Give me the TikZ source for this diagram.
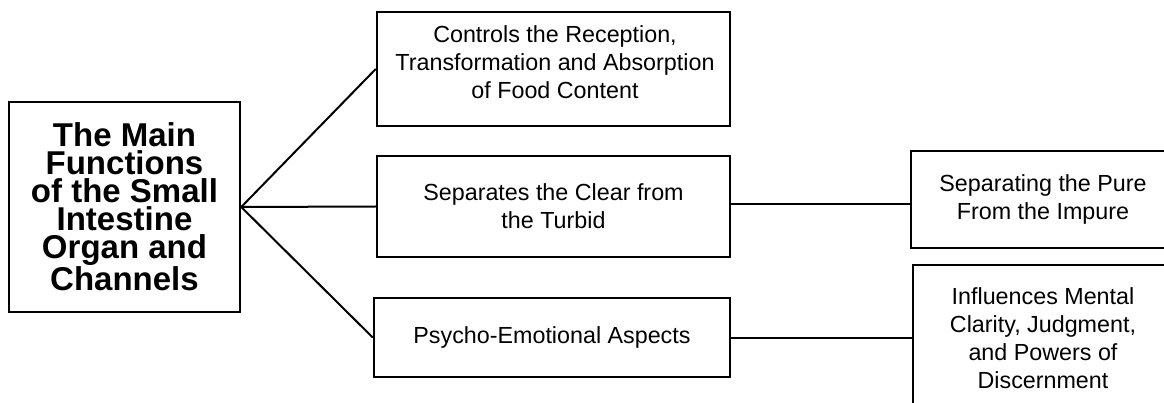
\documentclass[tikz,border=0pt]{standalone}
\usepackage{fontspec}
\setmainfont{Liberation Sans}
\begin{document}
\begin{tikzpicture}[x=1pt,y=-1pt,
  box/.style={draw=black, line width=2.5pt, align=center, inner sep=0pt,
    font=\fontsize{23.3}{28}\selectfont},
  plain/.style={align=center, inner sep=0pt, font=\fontsize{23.3}{28}\selectfont},
  titlebox/.style={box, font=\fontsize{33}{28}\selectfont\bfseries},
  link/.style={line width=2pt}]
\useasboundingbox[fill=white] (0,0) rectangle (1164,403);

% central title
\node[titlebox, minimum width=231pt, minimum height=210pt] (main) at (124.5,207)
  {The Main\\Functions\\of the Small\\Intestine\\Organ and\\Channels};

% first level functions
\node[box, minimum width=353pt, minimum height=114pt] (food) at (553.5,69) {};
\node[plain] (foodtext) at (555,62)
  {Controls the Reception,\\Transformation and Absorption\\of Food Content};
\node[box, minimum width=353pt, minimum height=101pt] (clear) at (553.5,206.5)
  {Separates the Clear from\\the Turbid};
\node[box, minimum width=356pt, minimum height=79pt] (psycho) at (552,337.5)
  {Psycho-Emotional Aspects};

% second level, running off the right edge
\node[box, minimum width=264pt, minimum height=97pt] (pure) at (1043,199.5)
  {Separating the Pure\\From the Impure};
\node[box, minimum width=260pt, minimum height=146pt] (mind) at (1043,338)
  {Influences Mental\\Clarity, Judgment,\\and Powers of\\Discernment};

% connectors
\draw[link] (main.east) -- (food.west);
\draw[link] (main.east) -- (clear.west);
\draw[link] (main.east) -- (psycho.west);
\draw[link] ([yshift=2pt]clear.east) -- ([yshift=2pt]clear.east -| pure.west);
\draw[link] (psycho.east) -- (psycho.east -| mind.west);
\end{tikzpicture}
\end{document}
